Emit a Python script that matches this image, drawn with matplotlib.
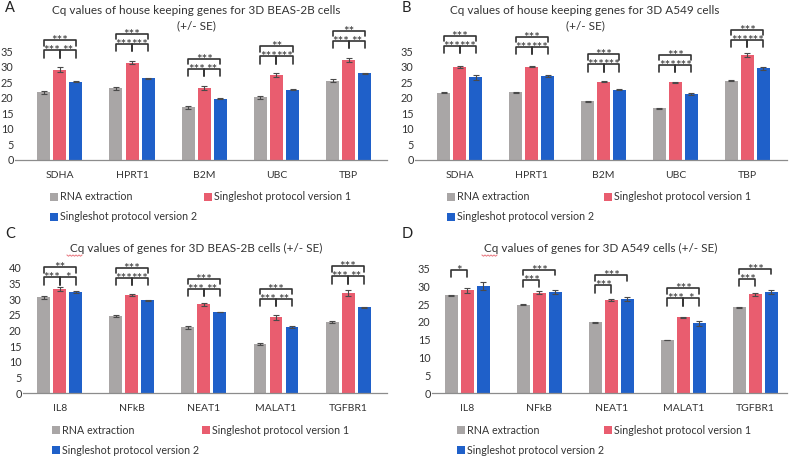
import matplotlib
matplotlib.use("Agg")
import matplotlib.pyplot as plt
from matplotlib.patches import Rectangle
import numpy as np

plt.rcParams['font.family'] = ['Lato', 'DejaVu Sans']

# ---------------- data ----------------
genes_hk = ['SDHA', 'HPRT1', 'B2M', 'UBC', 'TBP']
genes_tg = ['IL8', 'NFkB', 'NEAT1', 'MALAT1', 'TGFBR1']
series_names = ['RNA extraction', 'Singleshot protocol version 1', 'Singleshot protocol version 2']

A_rna = [21.8, 23.1, 16.9, 20.1, 25.4]
A_v1 = [29.0, 31.3, 23.2, 27.3, 32.2]
A_v2 = [25.1, 26.2, 19.7, 22.5, 27.9]
A_rna_se = [0.5, 0.5, 0.5, 0.5, 0.5]
A_v1_se = [0.8, 0.6, 0.6, 0.6, 0.7]
A_v2_se = [0.15, 0.15, 0.15, 0.15, 0.15]

B_rna = [21.6, 21.8, 18.9, 16.6, 25.5]
B_v1 = [30.0, 30.0, 25.1, 25.0, 33.8]
B_v2 = [26.5, 26.9, 22.6, 21.2, 29.4]
B_rna_se = [0.15, 0.15, 0.15, 0.15, 0.15]
B_v1_se = [0.3, 0.2, 0.2, 0.2, 0.7]
B_v2_se = [0.7, 0.3, 0.2, 0.2, 0.4]

C_rna = [30.6, 24.6, 21.0, 15.7, 22.8]
C_v1 = [33.3, 31.5, 28.4, 24.3, 32.0]
C_v2 = [32.2, 29.7, 25.9, 21.1, 27.4]
C_rna_se = [0.6, 0.4, 0.4, 0.3, 0.3]
C_v1_se = [0.5, 0.3, 0.5, 0.8, 0.9]
C_v2_se = [0.3, 0.2, 0.1, 0.2, 0.2]

D_rna = [27.5, 24.9, 19.9, 14.9, 24.1]
D_v1 = [28.9, 28.2, 26.2, 21.3, 27.8]
D_v2 = [30.2, 28.5, 26.4, 19.6, 28.5]
D_rna_se = [0.2, 0.2, 0.2, 0.1, 0.1]
D_v1_se = [0.6, 0.4, 0.3, 0.1, 0.5]
D_v2_se = [1.2, 0.6, 0.6, 0.7, 0.6]

# significance: (group, bar_i, bar_j, label)
A_sig = [(0, 0, 1, '***'), (0, 1, 2, '**'), (0, 0, 2, '***'),
         (1, 0, 1, '***'), (1, 1, 2, '***'), (1, 0, 2, '***'),
         (2, 0, 1, '***'), (2, 1, 2, '**'), (2, 0, 2, '***'),
         (3, 0, 1, '***'), (3, 1, 2, '***'), (3, 0, 2, '**'),
         (4, 0, 1, '***'), (4, 1, 2, '**'), (4, 0, 2, '**')]
B_sig = [(g, i, j, '***') for g in range(5) for (i, j) in [(0, 1), (1, 2), (0, 2)]]
C_sig = [(0, 0, 1, '***'), (0, 1, 2, '*'), (0, 0, 2, '**'),
         (1, 0, 1, '***'), (1, 1, 2, '***'), (1, 0, 2, '***'),
         (2, 0, 1, '***'), (2, 1, 2, '**'), (2, 0, 2, '***'),
         (3, 0, 1, '***'), (3, 1, 2, '**'), (3, 0, 2, '***'),
         (4, 0, 1, '***'), (4, 1, 2, '**'), (4, 0, 2, '***')]
D_sig = [(0, 0, 1, '*'),
         (1, 0, 1, '***'), (1, 0, 2, '***'),
         (2, 0, 1, '***'), (2, 0, 2, '***'),
         (3, 0, 1, '***'), (3, 1, 2, '*'), (3, 0, 2, '***'),
         (4, 0, 1, '***'), (4, 0, 2, '***')]

# ---------------- style ----------------
W, H = 793, 458
colors = ['#A9A6A6', '#E95D6F', '#1F60C9']
txt_col = '#333333'
fig = plt.figure(figsize=(W / 100, H / 100), dpi=100)


def fx(px):
    return px / W


def fy(py):
    return 1 - py / H


panels = [
    dict(letter='A', x0=15, x1=387, yz=160, ppu=3.114, ytop=44, xlim=(-0.62, 4.53),
         title=['Cq values of house keeping genes for 3D BEAS-2B cells', '(+/- SE)'], tx=196, ty=[11, 26],
         cats=genes_hk, vals=[A_rna, A_v1, A_v2], errs=[A_rna_se, A_v1_se, A_v2_se], sig=A_sig,
         yticks=range(0, 40, 5), leg=(50, 204, 197, 217), off0=[17] * 5, squiggle=None),
    dict(letter='B', x0=415, x1=787, yz=160, ppu=3.114, ytop=44, xlim=(-0.62, 4.55),
         title=['Cq values of house keeping genes for 3D A549 cells', '(+/- SE)'], tx=585, ty=[11, 26],
         cats=genes_hk, vals=[B_rna, B_v1, B_v2], errs=[B_rna_se, B_v1_se, B_v2_se], sig=B_sig,
         yticks=range(0, 40, 5), leg=(447, 604, 197, 217), off0=[20, 19, 17, 17, 13], squiggle=None),
    dict(letter='C', x0=23, x1=387, yz=393, ppu=3.125, ytop=45, xlim=(-0.51, 4.54),
         title=['Cq values of genes for 3D BEAS-2B cells (+/- SE)'], tx=196, ty=[248],
         cats=genes_tg, vals=[C_rna, C_v1, C_v2], errs=[C_rna_se, C_v1_se, C_v2_se], sig=C_sig,
         yticks=range(0, 45, 5), leg=(52, 202, 430, 450), off0=[10, 16, 14, 16, 14], squiggle=(67, 83, 255)),
    dict(letter='D', x0=432, x1=787, yz=393, ppu=3.55, ytop=39, xlim=(-0.49, 4.44),
         title=['Cq values of genes for 3D A549 cells (+/- SE)'], tx=601, ty=[248],
         cats=genes_tg, vals=[D_rna, D_v1, D_v2], errs=[D_rna_se, D_v1_se, D_v2_se], sig=D_sig,
         yticks=range(0, 40, 5), leg=(457, 604, 430, 450), off0=[12, 10, 12, 19, 11], squiggle=(482, 498, 255)),
]

bw = 0.18
step = 0.222

for p in panels:
    hpx = p['ppu'] * p['ytop']
    ax = fig.add_axes([fx(p['x0']), fy(p['yz']), fx(p['x1'] - p['x0']), hpx / H])
    ax.set_xlim(*p['xlim'])
    ax.set_ylim(0, p['ytop'])
    for s in ['top', 'right', 'left']:
        ax.spines[s].set_visible(False)
    ax.spines['bottom'].set_color('#8c8c8c')
    ax.spines['bottom'].set_linewidth(0.9)
    ax.set_yticks(list(p['yticks']))
    ax.tick_params(axis='y', length=0, labelsize=7.8, labelcolor=txt_col, pad=1)
    ax.tick_params(axis='x', length=0, labelsize=7.5, labelcolor=txt_col, pad=8)
    x = np.arange(len(p['cats']))
    ax.set_xticks(x)
    ax.set_xticklabels(p['cats'])
    ax.patch.set_alpha(0)

    tops = np.zeros((3, len(x)))
    for k in range(3):
        v = np.array(p['vals'][k])
        e = np.array(p['errs'][k])
        xs = x + (k - 1) * step
        ax.bar(xs, v, width=bw, color=colors[k], edgecolor='none', zorder=2)
        ax.errorbar(xs, v, yerr=e, fmt='none', ecolor='#4a4a4a', elinewidth=0.8,
                    capsize=2, capthick=0.8, zorder=3)
        tops[k] = v + e

    ppu = p['ppu']
    for (g, i, j, lab) in p['sig']:
        base = tops[:, g].max() + p['off0'][g] / ppu
        xi = g + (i - 1) * step
        xj = g + (j - 1) * step
        if j - i == 1:
            yl = base
            tick = 7.5 / ppu
        else:
            yl = base + 10 / ppu
            tick = 5.5 / ppu
        ax.plot([xi, xi, xj, xj], [yl - tick, yl, yl, yl - tick], color='#333333',
                lw=1.2, solid_joinstyle='round', solid_capstyle='round', clip_on=False, zorder=4)
        ax.text((xi + xj) / 2, yl - 5.0 / ppu, lab, ha='center', va='baseline',
                fontsize=9.5, color='#333333', clip_on=False, zorder=5)

    # titles & panel letter
    for line, ty in zip(p['title'], p['ty']):
        fig.text(fx(p['tx']), fy(ty), line, ha='center', va='center', fontsize=8.5, color=txt_col)
    if p['squiggle'] is not None:
        sx0, sx1, sy = p['squiggle']
        zx = np.arange(sx0, sx1 + 0.01, 1.5)
        zy = sy + np.where(np.arange(len(zx)) % 2 == 0, 0.0, 1.2)
        fig.add_artist(plt.Line2D(fx(zx), fy(zy), color='#E8777F', lw=0.7, transform=fig.transFigure))
    lx = 5 if p['letter'] in 'AC' else 402
    ly = 8 if p['letter'] in 'AB' else 234
    fig.text(fx(lx), fy(ly), p['letter'], ha='left', va='center', fontsize=10.5, color='#222222')

    # legend
    mx1, mx2, ry1, ry2 = p['leg']
    pos = [(mx1, ry1), (mx2, ry1), (mx1, ry2)]
    for k, (mx, my) in enumerate(pos):
        fig.add_artist(Rectangle((fx(mx), fy(my + 4)), fx(8), 8 / H, transform=fig.transFigure,
                                 facecolor=colors[k], edgecolor='none'))
        fig.text(fx(mx + 10), fy(my), series_names[k], ha='left', va='center',
                 fontsize=7.7, color=txt_col)

fig.savefig('out.png', dpi=100)
